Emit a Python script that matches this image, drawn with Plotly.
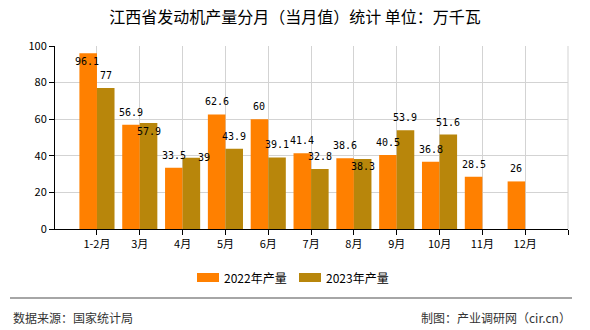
import plotly.graph_objects as go

categories = ["1-2月", "3月", "4月", "5月", "6月", "7月", "8月", "9月", "10月", "11月", "12月"]
values_2022 = [96.1, 56.9, 33.5, 62.6, 60, 41.4, 38.6, 40.5, 36.8, 28.5, 26]
values_2023 = [77, 57.9, 39, 43.9, 39.1, 32.8, 38.3, 53.9, 51.6, None, None]
series_names = ["2022年产量", "2023年产量"]
colors = ["#FF8000", "#B8860B"]
title_text = "江西省发动机产量分月（当月值）统计 单位：万千瓦"
source_text = "数据来源：国家统计局"
credit_text = "制图：产业调研网（cir.cn）"

# plot area in pixels
L, R, T, B = 55, 568, 46, 229
W, H = R - L, B - T
BARGAP = 0.18


def px(x):
    return (x - L) / W


def py(y):
    return (B - y) / H


xpos = list(range(len(categories)))
label_font = dict(family="DejaVu Sans Mono, monospace", size=10, color="#000000")

# label placement tweaks (series index, point index) -> (xshift, yshift) in px
label_shift = {(0, 0): (-1, -8), (1, 1): (0, -8), (1, 2): (13, 0), (1, 6): (0, -8)}

fig = go.Figure()
annotations = []
half = (1 - BARGAP) / 4
for s, (name, vals, col) in enumerate(zip(series_names, [values_2022, values_2023], colors)):
    fig.add_trace(go.Bar(
        x=xpos, y=vals, name=name, marker=dict(color=col, line=dict(width=0)),
        showlegend=False, hoverinfo="x+y",
    ))
    off = -half if s == 0 else half
    for i, v in enumerate(vals):
        if v is None:
            continue
        xs, ys = label_shift.get((s, i), (0, 12.5))
        annotations.append(dict(
            x=xpos[i] + off, y=v, xref="x", yref="y", text=f"{v:g}",
            showarrow=False, xanchor="center", yanchor="middle",
            xshift=xs, yshift=ys, font=label_font,
        ))

shapes = [
    dict(type="line", xref="paper", yref="paper", x0=1, x1=1, y0=0, y1=1,
         line=dict(color="#D3D3D3", width=1)),
    dict(type="line", xref="paper", yref="paper", x0=px(10), x1=px(572),
         y0=py(298), y1=py(298), line=dict(color="#888", width=1.5)),
]
annotations += [
    dict(text=source_text, xref="paper", yref="paper", x=px(11), y=py(317),
         xanchor="left", yanchor="middle", showarrow=False,
         font=dict(size=12, color="#333")),
    dict(text=credit_text, xref="paper", yref="paper", x=px(573), y=py(317),
         xanchor="right", yanchor="middle", showarrow=False,
         font=dict(size=12, color="#333")),
]
# manual legend
legend_x = [197, 299]
for name, col, lx in zip(series_names, colors, legend_x):
    shapes.append(dict(type="rect", xref="paper", yref="paper",
                       x0=px(lx), x1=px(lx + 22), y0=py(282), y1=py(273),
                       fillcolor=col, line=dict(width=0)))
    annotations.append(dict(text=name, xref="paper", yref="paper",
                            x=px(lx + 25), y=py(277.5), xanchor="left", yanchor="middle",
                            showarrow=False, font=dict(size=12, color="#000")))

fig.update_layout(
    width=590, height=330,
    margin=dict(l=L, r=590 - R, t=T, b=330 - B),
    paper_bgcolor="white", plot_bgcolor="white",
    barmode="group", bargap=BARGAP, bargroupgap=0,
    font=dict(family="Noto Sans CJK SC, sans-serif", size=11, color="#000"),
    title=dict(text=title_text, x=0.5, xanchor="center", y=1 - 17 / 330, yanchor="middle",
               font=dict(size=16, color="#000")),
    showlegend=False,
    xaxis=dict(
        range=[-0.98, 11.0],
        tickmode="array", tickvals=[-1] + xpos + [11], ticktext=[""] + categories + [""],
        showgrid=True, gridcolor="#D3D3D3", gridwidth=1,
        showline=True, linecolor="#000", linewidth=1,
        ticks="outside", ticklen=5, tickcolor="#000",
        tickfont=dict(size=11, color="#000"), zeroline=False,
    ),
    yaxis=dict(
        range=[0, 100], tickvals=[0, 20, 40, 60, 80, 100],
        showgrid=True, gridcolor="#D3D3D3", gridwidth=1,
        showline=True, linecolor="#000", linewidth=1,
        ticks="outside", ticklen=5, tickcolor="#000",
        tickfont=dict(size=11, color="#000"), zeroline=False,
    ),
    shapes=shapes,
    annotations=annotations,
)

fig.write_html("out.html")
